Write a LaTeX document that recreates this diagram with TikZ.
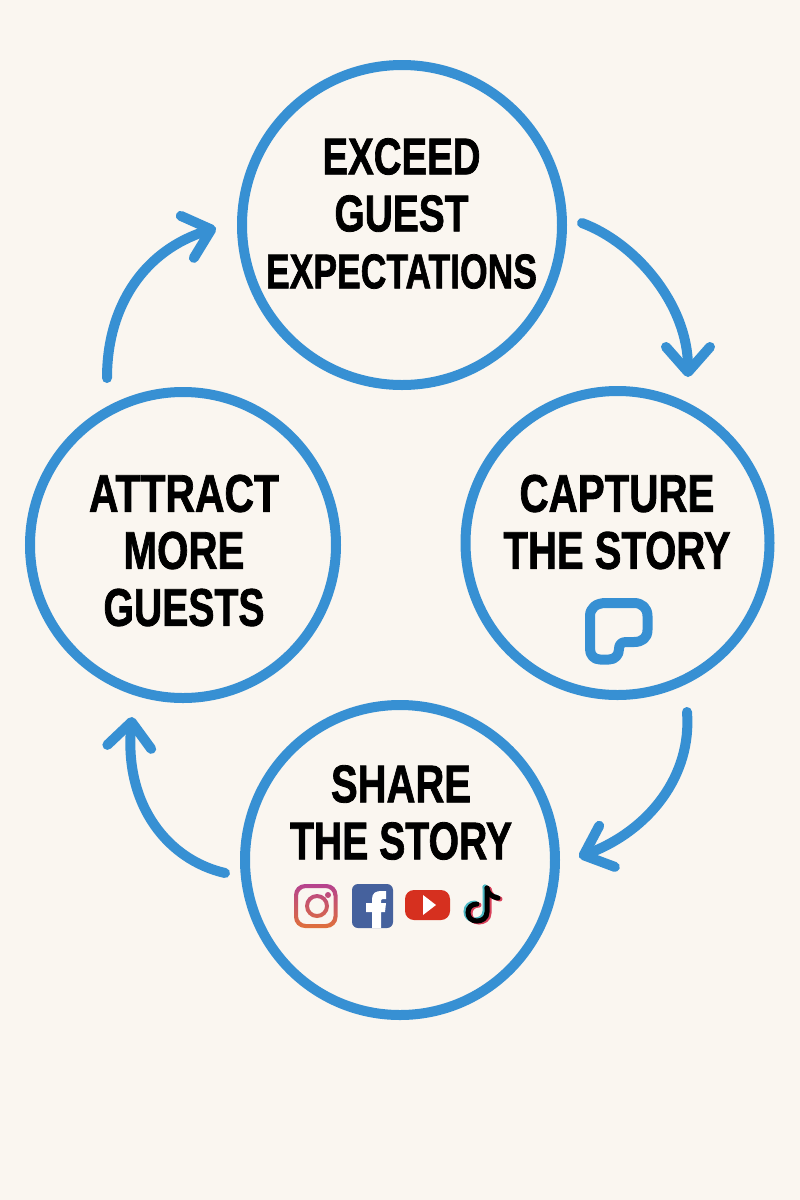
\documentclass[tikz,border=0pt]{standalone}
\usepackage{fontspec}
\usepackage{graphicx}
\setmainfont{Liberation Sans}[BoldFont={* Bold},BoldFeatures={FakeBold=1.6}]
\usetikzlibrary{arrows.meta}
\definecolor{bgc}{HTML}{FAF6F0}
\definecolor{blu}{HTML}{3790D3}
\definecolor{igtop}{HTML}{B5428F}
\definecolor{igbot}{HTML}{E0703A}
\definecolor{fbc}{HTML}{45619D}
\definecolor{ytc}{HTML}{D6301F}
\definecolor{ttc}{HTML}{4DB8C4}
\definecolor{ttr}{HTML}{D8405A}
\newcommand{\fitline}[3]{\resizebox{#1pt}{#2pt}{\bfseries #3}}
\newcommand{\ttnote}[2]{%
  \draw[#1,line width=5pt,line cap=round,shift={(#2)}]
    (487,888) -- (487,912) .. controls (487,918) and (482,921) .. (477,921)
    .. controls (471,921) and (468,917) .. (468,912.5)
    .. controls (468,907) and (472,904) .. (477,904);
  \draw[#1,line width=5pt,line cap=round,shift={(#2)}]
    (487,888) .. controls (488,894) and (492,897) .. (498,898);
}
\tikzset{
  ring/.style={circle,draw=blu,line width=10pt,inner sep=0pt},
  flow/.style={draw=blu,line width=10pt,line cap=round,line join=round,
    -{Straight Barb[length=25pt,width=44pt,round]}},
  lbl/.style={inner sep=0pt,align=center,text=black,font=\fontsize{30}{57}\selectfont},
}
\begin{document}
\begin{tikzpicture}[x=1pt,y=-1pt]
\useasboundingbox (0,0) rectangle (800,1200);
\fill[bgc] (0,0) rectangle (800,1200);
% circles
\node[ring,minimum size=320pt] (top) at (402,225) {};
\node[ring,minimum size=304pt] (right) at (617.5,543) {};
\node[ring,minimum size=306pt] (left) at (183,545) {};
\node[ring,minimum size=310pt] (bottom) at (400,860) {};
% labels
\node[lbl] (tlabel) at (401.5,213.5) {\fitline{158}{36}{EXCEED}\\\fitline{134}{36}{GUEST}\\\fitline{271}{34}{EXPECTATIONS}};
\node[lbl] (llabel) at (184,550.5) {\fitline{190}{37}{ATTRACT}\\\fitline{121}{37}{MORE}\\\fitline{161}{37}{GUESTS}};
\node[lbl] (rlabel) at (617,522) {\fitline{195}{37}{CAPTURE}\\\fitline{227}{37}{THE STORY}};
\node[lbl] (blabel) at (401,812.5) {\fitline{140}{37}{SHARE}\\\fitline{222}{37}{THE STORY}};
% arrows
\coordinate (a1s) at (582,223); \coordinate (a1e) at (688,377);
\coordinate (a2s) at (687,712); \coordinate (a2e) at (579,857);
\coordinate (a3s) at (225,873); \coordinate (a3e) at (132,717);
\coordinate (a4s) at (107,378); \coordinate (a4e) at (216,228);
\draw[flow] (a1s) .. controls (636,243) and (688,305) .. (a1e);
\draw[flow] (a2s) .. controls (692,775) and (650,830) .. (a2e);
\draw[flow] (a3s) .. controls (168,860) and (124,805) .. (a3e);
\draw[flow] (a4s) .. controls (107,305) and (145,250) .. (a4e);
% capture icon
\draw[blu,line width=10pt,line join=round]
  (606,603) -- (634,603) .. controls (642,603) and (647.5,608) .. (647.5,616)
  -- (647.5,630) .. controls (647.5,638) and (642,642) .. (634,642)
  -- (626,642) .. controls (621,642) and (619,645) .. (619,649)
  .. controls (619,655) and (615,659.5) .. (609,659.5)
  -- (600,659.5) .. controls (594,659.5) and (590,655) .. (590,649)
  -- (590,616) .. controls (590,608) and (596,603) .. (606,603) -- cycle;
% instagram
\shade[top color=igtop,bottom color=igbot,even odd rule]
  [rounded corners=11pt] (294,884) rectangle (337.5,928)
  [rounded corners=8pt] (298,888) rectangle (333.5,924)
  [sharp corners] (317,906) circle (12) (317,906) circle (8)
  (328,895) circle (3);
% facebook
\fill[fbc,rounded corners=6pt] (352,884) rectangle (393,928);
\fill[white] (372,928) -- (372,912) -- (366,912) -- (366,903) -- (372,903) -- (372,899)
  .. controls (372,893) and (376,891) .. (381,891) -- (386,891) -- (386,899) -- (383,899)
  .. controls (381.5,899) and (381,900) .. (381,901) -- (381,903) -- (386,903) -- (385,912)
  -- (381,912) -- (381,928) -- cycle;
% youtube
\fill[ytc,rounded corners=9pt] (405,890) rectangle (450,920);
\fill[white] (423,895) -- (436,905) -- (423,915) -- cycle;
% tiktok
\ttnote{ttc}{-2,-1}
\ttnote{ttr}{2,1}
\ttnote{black}{0,0}
\end{tikzpicture}
\end{document}
